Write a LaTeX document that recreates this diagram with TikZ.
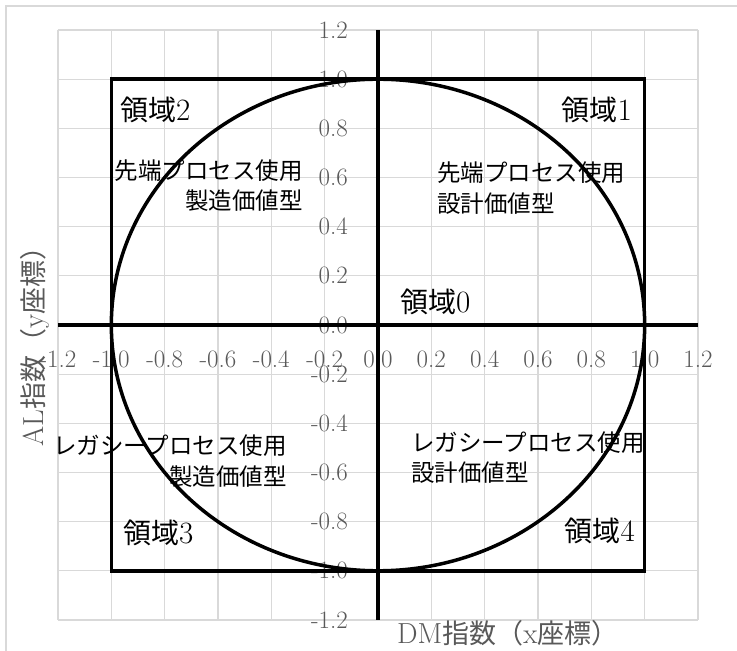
\documentclass[tikz,border=0pt]{standalone}
\usepackage{fontspec}
\newfontfamily\jp{Noto Sans CJK JP}
\definecolor{gridc}{HTML}{D9D9D9}
\definecolor{labc}{HTML}{595959}
\newcommand{\regnum}[1]{{\rmfamily\fontsize{31}{34}\selectfont #1}}
\newcommand{\ttlatin}[1]{{\rmfamily\fontsize{29}{32}\selectfont #1}}
\begin{document}
\begin{tikzpicture}[x=1pt,y=1pt,
  gridline/.style={draw=gridc, line width=1.2pt},
  heavy/.style={draw=black, line width=3.5pt},
  ticklab/.style={text=labc, inner sep=0pt, font=\fontsize{25}{28}\selectfont},
  region/.style={inner sep=0pt, font=\jp\fontsize{28}{32}\selectfont},
  note/.style={inner sep=0pt, font=\jp\fontsize{23.5}{28}\selectfont},
  axtitle/.style={text=labc, inner sep=0pt, font=\jp\fontsize{27}{30}\selectfont}]
\useasboundingbox (0,0) rectangle (737,651);
\fill[white] (0,0) rectangle (737,651);
% outer chart frame
\draw[draw=gridc, line width=1.5pt] (6,0) -- (6,645) -- (737,645);
\begin{scope}[shift={(378,326)}, x=266.67pt, y=245.8pt]
  % grid
  \foreach \i in {-6,...,6} {
    \draw[gridline] (\i*0.2,-1.2) -- (\i*0.2,1.2);
    \draw[gridline] (-1.2,\i*0.2) -- (1.2,\i*0.2);
  }
  % tick labels
  \foreach \v/\t [count=\k] in {-1.2/-1.2,-1.0/-1.0,-0.8/-0.8,-0.6/-0.6,-0.4/-0.4,-0.2/-0.2,0/0.0,0.2/0.2,0.4/0.4,0.6/0.6,0.8/0.8,1.0/1.0,1.2/1.2} {
    \node[ticklab, yshift=-34pt] (xt\k) at (\v,0) {\t};
    \node[ticklab, anchor=east, xshift=-30pt] (yt\k) at (0,\v) {\t};
  }
\end{scope}
% region labels
\node[region, anchor=west] (r2) at (120,541) {領域\regnum{2}};
\node[region, anchor=east] (r1) at (632,541) {領域\regnum{1}};
\node[region, anchor=west] (r0) at (400,349) {領域\regnum{0}};
\node[region, anchor=west] (r3) at (123,118) {領域\regnum{3}};
\node[region, anchor=east] (r4) at (635,120) {領域\regnum{4}};
% notes
\node[note, anchor=east] (n2a) at (303,480) {先端プロセス使用};
\node[note, anchor=east] (n2b) at (303,450) {製造価値型};
\node[note, anchor=west] (n1a) at (437,478) {先端プロセス使用};
\node[note, anchor=west] (n1b) at (437,447) {設計価値型};
\node[note, anchor=east] (n3a) at (287,205) {レガシープロセス使用};
\node[note, anchor=east] (n3b) at (287,174) {製造価値型};
\node[note, anchor=west] (n4a) at (411,208) {レガシープロセス使用};
\node[note, anchor=west] (n4b) at (411,178) {設計価値型};
% axis titles
\node[axtitle, anchor=west] (xtitle) at (397,18) {\ttlatin{DM}指数（\ttlatin{x}座標）};
\node[axtitle, rotate=90, anchor=west] (ytitle) at (35,204) {\ttlatin{AL}指数（\ttlatin{y}座標）};
% heavy lines
\begin{scope}[shift={(378,326)}, x=266.67pt, y=245.8pt]
  \draw[heavy] (-1,-1) rectangle (1,1);
  \draw[heavy] (-1.2,0) -- (1.2,0);
  \draw[heavy] (0,-1.2) -- (0,1.2);
  \draw[heavy] (0,0) ellipse [x radius=266.67pt, y radius=245.8pt];
\end{scope}
\end{tikzpicture}
\end{document}
